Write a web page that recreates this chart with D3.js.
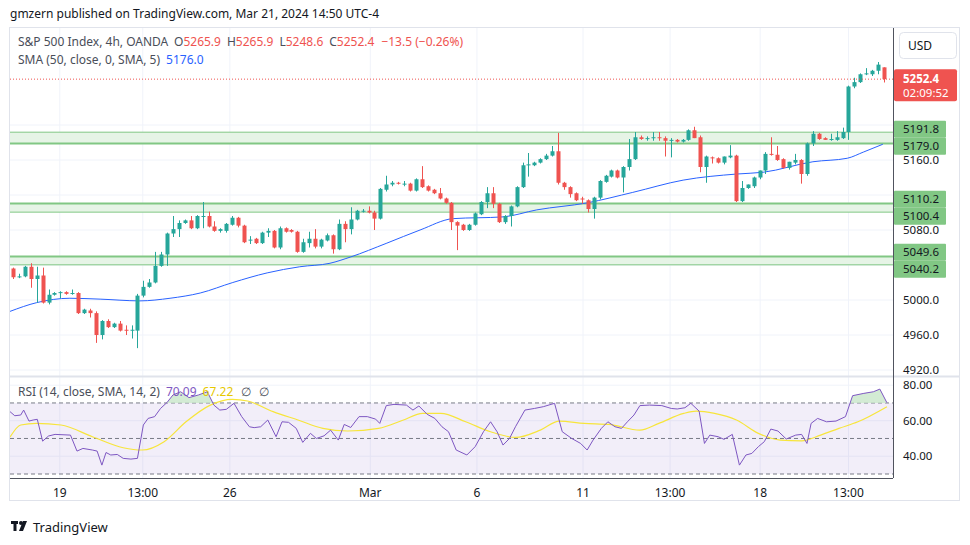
<!DOCTYPE html>
<html>
<head>
<meta charset="utf-8">
<script src="https://cdn.jsdelivr.net/npm/d3@7"></script>
<style>
  body { margin: 0; background: #fff; font-family: "Noto Sans", "Open Sans", sans-serif; }
  text { font-family: "Noto Sans", "Open Sans", sans-serif; white-space: pre; }
</style>
</head>
<body>
<svg id="chart" width="970" height="545"></svg>
<script>
// candles: [open, high, low, close], 4h bars
const candles = [
  [5036,5037,5024,5026],[5026,5030,5025,5027],[5027,5039,5026,5038],[5038,5042,5014,5024],
  [5024,5038,4997,5028],[5028,5037,4996,4997],[4997,5012,4995,5006],[5006,5009,5005,5008],
  [5008,5010,5002,5009],[5009,5010,5006,5007],[5007,5012,5006,5008],[5008,5009,4984,4985],
  [4985,4990,4984,4989],[4988,4990,4980,4985],[4985,4987,4951,4960],[4960,4977,4955,4976],
  [4976,4978,4968,4969],[4969,4974,4968,4973],[4973,4976,4964,4965],[4966,4971,4960,4965],
  [4965,4971,4956,4966],[4965,5007,4945,5005],[5005,5022,5003,5015],[5015,5024,5014,5020],
  [5020,5055,5019,5039],[5039,5055,5038,5052],[5052,5077,5039,5076],[5076,5096,5072,5081],
  [5081,5091,5072,5088],[5088,5092,5087,5091],[5091,5096,5081,5082],[5082,5097,5081,5096],
  [5096,5112,5082,5096],[5096,5101,5083,5084],[5084,5090,5078,5079],[5079,5082,5077,5081],
  [5079,5088,5077,5087],[5086,5096,5085,5094],[5094,5095,5083,5085],[5085,5086,5065,5066],
  [5068,5073,5064,5069],[5070,5071,5064,5065],[5065,5078,5064,5077],[5077,5082,5072,5079],
  [5079,5080,5059,5060],[5060,5084,5058,5082],[5082,5083,5077,5078],[5080,5081,5077,5078],
  [5078,5079,5054,5055],[5055,5070,5054,5066],[5065,5078,5060,5070],[5070,5081,5059,5061],
  [5061,5070,5059,5069],[5068,5076,5067,5074],[5074,5075,5053,5058],[5058,5092,5057,5087],
  [5087,5090,5066,5081],[5081,5106,5075,5092],[5092,5103,5091,5102],[5101,5104,5100,5102],
  [5102,5107,5099,5100],[5100,5102,5080,5093],[5093,5128,5092,5127],[5126,5142,5124,5132],
  [5132,5136,5130,5134],[5134,5135,5132,5133],[5133,5136,5130,5133],[5133,5134,5124,5125],
  [5125,5139,5124,5138],[5138,5153,5128,5129],[5130,5131,5124,5125],[5126,5127,5121,5122],
  [5122,5128,5115,5116],[5116,5117,5110,5111],[5111,5112,5080,5089],[5089,5090,5057,5085],
  [5086,5087,5079,5080],[5080,5087,5079,5086],[5086,5100,5085,5099],[5098,5113,5097,5112],
  [5112,5129,5105,5122],[5122,5129,5105,5110],[5110,5111,5088,5089],[5089,5097,5087,5096],
  [5096,5108,5084,5107],[5107,5130,5106,5129],[5129,5157,5128,5154],[5154,5168,5141,5155],
  [5154,5158,5153,5157],[5157,5162,5156,5161],[5161,5167,5160,5165],[5165,5176,5164,5170],
  [5170,5191,5132,5134],[5134,5135,5126,5129],[5129,5130,5117,5121],[5122,5123,5113,5114],
  [5116,5118,5110,5115],[5114,5115,5100,5104],[5104,5118,5093,5117],[5117,5137,5115,5136],
  [5135,5143,5134,5142],[5141,5149,5140,5148],[5148,5149,5139,5140],[5140,5153,5123,5152],
  [5152,5184,5148,5161],[5161,5192,5160,5186],[5186,5188,5183,5184],[5184,5187,5182,5185],
  [5185,5192,5182,5186],[5186,5192,5182,5185],[5185,5187,5164,5182],[5182,5185,5163,5183],
  [5183,5184,5180,5181],[5181,5184,5180,5183],[5183,5195,5182,5194],[5194,5198,5185,5185],
  [5186,5188,5146,5152],[5152,5165,5134,5164],[5163,5164,5156,5162],[5162,5163,5156,5157],
  [5157,5164,5155,5164],[5163,5177,5162,5165],[5165,5166,5112,5113],[5113,5136,5112,5128],
  [5128,5132,5127,5132],[5130,5141,5128,5140],[5140,5148,5138,5148],[5148,5169,5144,5167],
  [5167,5186,5165,5166],[5166,5176,5159,5160],[5161,5162,5150,5151],[5151,5158,5149,5158],
  [5157,5167,5155,5160],[5160,5161,5133,5144],[5144,5180,5142,5179],[5179,5193,5176,5190],
  [5190,5191,5183,5184],[5185,5186,5183,5183],[5183,5190,5182,5184],[5183,5193,5182,5186],
  [5185,5197,5184,5192],[5192,5245,5183,5244],[5244,5254,5242,5249],[5249,5259,5248,5258],
  [5258,5265,5257,5259],[5258,5263,5256,5262],[5262,5272,5258,5269],[5265.9,5265.9,5248.6,5252.4]
];

// SMA 50 readings: [bar index, value]
const smaPoints = [
  [-0.5,4987],[4,4997],[9.6,5002],[14.7,5001],[21.4,4999],[26.5,5002],[31.6,5008],[37.1,5020],
  [42.9,5031],[48.4,5038],[53.5,5042],[56.9,5049],[63.1,5065],[68.7,5080],[74.3,5093],[82.7,5095],
  [88.4,5103],[96.9,5111],[104.6,5123],[113.1,5137],[122.2,5144],[126.6,5146],[135,5158],
  [140.8,5162],[143.5,5169],[146.8,5178]
];

// support/resistance zones [low, high]
const zones = [[5179.0,5191.8],[5100.4,5110.2],[5040.2,5049.6]];

const priceTicks = [4920,4960,5000,5040,5080,5120,5160,5200];
const rsiTicks = [40,60,80];

const rsiPoints = [
  [-0.5,65.1],[0.3,62.8],[1.3,63.2],[1.8,66.0],[2.7,59.8],[3.4,60.4],[4.1,60.8],[5.0,48.5],
  [6.0,51.4],[7.1,52.3],[9.7,51.9],[10.8,42.9],[11.8,44.4],[13.4,43.5],[14.2,42.9],[15.0,35.0],
  [15.7,42.1],[16.5,40.7],[17.6,41.0],[18.6,38.8],[19.9,38.4],[21.0,38.8],[22.0,57.6],[22.8,61.3],
  [23.9,62.3],[24.9,66.9],[26.0,70.3],[27.0,74.5],[28.3,76.3],[29.7,73.0],[31.3,74.5],[32.8,76.3],
  [33.9,68.8],[34.9,66.0],[36.0,66.4],[37.3,69.8],[38.6,62.3],[39.9,56.6],[40.7,56.1],[41.8,56.6],
  [43.0,60.4],[44.4,51.0],[45.4,59.4],[46.5,59.1],[47.8,55.7],[48.9,47.8],[50.2,52.9],[51.2,50.0],
  [52.5,51.5],[53.6,54.7],[54.9,49.1],[55.9,57.9],[57.0,56.2],[58.4,62.3],[59.8,62.3],[61.2,60.9],
  [61.9,58.5],[63.0,68.5],[64.3,69.2],[66.4,68.8],[67.5,66.0],[68.5,68.3],[69.9,63.6],[71.2,61.3],
  [72.4,56.6],[73.5,53.8],[74.8,43.5],[76.6,40.7],[78.0,45.4],[79.4,53.8],[80.6,59.4],[81.7,53.8],
  [82.7,46.3],[83.8,50.0],[84.8,56.6],[86.4,66.0],[88.0,66.9],[89.5,67.9],[91.4,69.8],[92.7,53.8],
  [94.3,50.0],[95.8,47.2],[96.9,43.5],[97.9,49.1],[99.3,55.7],[100.4,59.4],[101.6,56.6],[102.7,55.7],
  [103.7,59.4],[104.8,63.2],[105.8,68.5],[107.4,68.8],[109.5,68.5],[111.1,66.9],[112.1,66.6],
  [113.4,67.3],[114.4,69.8],[115.8,65.4],[116.7,47.2],[117.6,51.9],[119.0,51.0],[120.0,49.5],
  [121.4,52.3],[122.6,35.0],[123.7,40.7],[124.7,41.6],[125.8,45.4],[126.8,48.2],[127.9,55.3],
  [129.1,54.2],[130.5,49.7],[132.1,51.9],[133.1,52.3],[134.0,47.2],[134.7,58.5],[135.8,61.3],
  [137.3,59.4],[138.9,59.8],[140.5,62.3],[141.7,74.1],[143.6,75.4],[145.2,76.3],[146.3,77.8],
  [147.5,70.1]
];

const rsiSmaPoints = [
  [-0.5,50.8],[1.3,57.6],[3.9,58.5],[8.1,57.6],[13.4,51.0],[18.6,44.8],[21.8,43.5],[25.5,48.2],
  [29.2,59.4],[33.3,68.8],[37.0,72.0],[39.6,71.1],[43.9,65.1],[48.1,60.4],[52.3,55.7],[56.5,54.2],
  [61.7,55.7],[65.9,60.4],[69.1,64.1],[72.2,64.1],[76.4,59.4],[80.6,53.8],[84.8,50.6],[89.0,54.7],
  [92.2,59.8],[96.4,58.5],[100.6,57.9],[105.8,54.7],[109.0,58.5],[113.2,64.1],[115.3,65.4],
  [118.4,64.1],[122.1,60.4],[125.8,52.9],[129.5,49.1],[133.1,48.7],[136.3,51.9],[139.4,55.7],
  [142.6,59.4],[147.5,67.9]
];

const timeLabels = ["19","13:00","26","Mar","6","11","13:00","18","13:00"];
const timeTickIdx = [7.9,21.9,36.6,60.3,78.3,96.2,110.9,126.1,141];

const UP = "#26a69a", DOWN = "#ef5350", GRID = "#f0f3fa", ZONE = "#81c784";
const plotL = 10, plotR = 893, priceTop = 28, priceBot = 376, rsiTop = 377, rsiBot = 478;

const svg = d3.select("#chart");
const x = d3.scaleLinear().domain([0, candles.length - 1]).range([13, 884]);
const y = d3.scaleLinear().domain([4920, 5200]).range([370, 125]);
const yr = d3.scaleLinear().domain([30, 80]).range([474, 385.2]);

svg.append("text").attr("x", 10).attr("y", 18).attr("font-size", 12).attr("fill", "#131722")
  .text("gmzern published on TradingView.com, Mar 21, 2024 14:50 UTC-4");

svg.append("defs").append("clipPath").attr("id", "plotClip")
  .append("rect").attr("x", plotL).attr("y", priceTop).attr("width", plotR - plotL).attr("height", rsiBot - priceTop);
svg.append("defs").append("clipPath").attr("id", "priceClip")
  .append("rect").attr("x", plotL).attr("y", priceTop).attr("width", plotR - plotL).attr("height", priceBot - priceTop);

// grid
const grid = svg.append("g");
grid.selectAll(".vg").data(timeTickIdx).join("line")
  .attr("x1", d => x(d)).attr("x2", d => x(d)).attr("y1", priceTop).attr("y2", rsiBot)
  .attr("stroke", GRID);
grid.selectAll(".hg").data(priceTicks).join("line")
  .attr("x1", plotL).attr("x2", plotR).attr("y1", d => y(d)).attr("y2", d => y(d)).attr("stroke", GRID);
grid.selectAll(".rg").data(rsiTicks).join("line")
  .attr("x1", plotL).attr("x2", plotR).attr("y1", d => yr(d)).attr("y2", d => yr(d)).attr("stroke", GRID);

// zones
const zg = svg.append("g");
zones.forEach(([lo, hi], k) => {
  zg.append("rect").attr("x", plotL).attr("width", plotR - plotL)
    .attr("y", y(hi)).attr("height", y(lo) - y(hi)).attr("fill", "#e6f4e6");
  zg.append("line").attr("x1", plotL).attr("x2", plotR).attr("y1", y(hi)).attr("y2", y(hi))
    .attr("stroke", ZONE).attr("stroke-width", k === 0 ? 1 : 2);
  zg.append("line").attr("x1", plotL).attr("x2", plotR).attr("y1", y(lo)).attr("y2", y(lo))
    .attr("stroke", ZONE).attr("stroke-width", k === 0 ? 2 : 1);
});

// SMA
svg.append("path").datum(smaPoints).attr("clip-path", "url(#priceClip)")
  .attr("fill", "none").attr("stroke", "#2962ff").attr("stroke-width", 1)
  .attr("d", d3.line().x(d => x(d[0])).y(d => y(d[1])).curve(d3.curveMonotoneX));

// candles
const cg = svg.append("g");
cg.selectAll(".wick").data(candles).join("line")
  .attr("x1", (d, i) => Math.round(x(i)) + 0.5).attr("x2", (d, i) => Math.round(x(i)) + 0.5)
  .attr("y1", d => y(d[1])).attr("y2", d => y(d[2]))
  .attr("stroke", d => d[3] >= d[0] ? UP : DOWN);
cg.selectAll(".body").data(candles).join("rect")
  .attr("x", (d, i) => Math.round(x(i)) - 1.5).attr("width", 4)
  .attr("y", d => y(Math.max(d[0], d[3])))
  .attr("height", d => Math.max(1, Math.abs(y(d[0]) - y(d[3]))))
  .attr("fill", d => d[3] >= d[0] ? UP : DOWN);

// last price dotted line
const last = candles[candles.length - 1];
svg.append("line").attr("x1", plotL).attr("x2", plotR).attr("y1", y(last[3])).attr("y2", y(last[3]))
  .attr("stroke", DOWN).attr("stroke-dasharray", "1,2");

// legend
const leg = svg.append("text").attr("x", 18).attr("y", 46).attr("font-size", 12).attr("fill", "#4a4e59");
leg.append("tspan").text("S&P 500 Index, 4h, OANDA");
[["O", "5265.9"], ["H", "5265.9"], ["L", "5248.6"], ["C", "5252.4"]].forEach(([k, v]) => {
  leg.append("tspan").attr("dx", 6).text(k);
  leg.append("tspan").attr("fill", DOWN).text(v);
});
leg.append("tspan").attr("dx", 7).attr("fill", DOWN).text("−13.5 (−0.26%)");
const leg2 = svg.append("text").attr("x", 18).attr("y", 64).attr("font-size", 12).attr("fill", "#4a4e59");
leg2.append("tspan").text("SMA (50, close, 0, SMA, 5)");
leg2.append("tspan").attr("dx", 6).attr("fill", "#2962ff").text("5176.0");

// RSI pane
const rg = svg.append("g").attr("clip-path", "url(#plotClip)");
rg.append("rect").attr("x", plotL).attr("width", plotR - plotL).attr("y", yr(70)).attr("height", yr(30) - yr(70))
  .attr("fill", "#7e57c2").attr("fill-opacity", 0.1);
[70, 50, 30].forEach(v => {
  rg.append("line").attr("x1", plotL).attr("x2", plotR).attr("y1", yr(v)).attr("y2", yr(v))
    .attr("stroke", "#787b86").attr("stroke-dasharray", "4,3");
});
rg.append("clipPath").attr("id", "ob").append("rect")
  .attr("x", plotL).attr("y", rsiTop).attr("width", plotR - plotL).attr("height", yr(70) - rsiTop);
rg.append("path").datum(rsiPoints).attr("clip-path", "url(#ob)")
  .attr("fill", "#c8e6c9").attr("fill-opacity", 0.8)
  .attr("d", d3.area().x(d => x(d[0])).y0(yr(70)).y1(d => yr(d[1])));
rg.append("path").datum(rsiSmaPoints).attr("fill", "none").attr("stroke", "#f7e53b").attr("stroke-width", 1.2)
  .attr("d", d3.line().x(d => x(d[0])).y(d => yr(d[1])).curve(d3.curveMonotoneX));
rg.append("path").datum(rsiPoints).attr("fill", "none").attr("stroke", "#7e57c2").attr("stroke-width", 1)
  .attr("d", d3.line().x(d => x(d[0])).y(d => yr(d[1])));

const rl = svg.append("text").attr("x", 18).attr("y", 396).attr("font-size", 12).attr("fill", "#4a4e59");
rl.append("tspan").text("RSI (14, close, SMA, 14, 2)");
rl.append("tspan").attr("dx", 6).attr("fill", "#7e57c2").text("70.09");
rl.append("tspan").attr("dx", 6).attr("fill", "#e6c800").text("67.22");
rl.append("tspan").attr("dx", 8).text("∅");
rl.append("tspan").attr("dx", 8).text("∅");

// frame and separators
svg.append("rect").attr("x", 9.5).attr("y", 27.5).attr("width", 950).attr("height", 473)
  .attr("fill", "none").attr("stroke", "#e0e3eb");
svg.append("line").attr("x1", plotL).attr("x2", 960).attr("y1", priceBot + 0.5).attr("y2", priceBot + 0.5)
  .attr("stroke", "#e0e3eb").attr("stroke-width", 2);
svg.append("line").attr("x1", plotL).attr("x2", plotR).attr("y1", rsiBot + 0.5).attr("y2", rsiBot + 0.5)
  .attr("stroke", "#50535e");
svg.append("line").attr("x1", plotR + 0.5).attr("x2", plotR + 0.5).attr("y1", priceTop).attr("y2", rsiBot)
  .attr("stroke", "#50535e");

// zone labels, pushed apart like the price scale does
const zoneVals = zones.flatMap(z => [z[1], z[0]]);
const labelY = [];
zones.forEach(([lo, hi]) => {
  const mid = (y(lo) + y(hi)) / 2;
  labelY.push(Math.min(y(hi), mid - 8.5), Math.max(y(lo), mid + 8.5));
});

// price axis (ticks hidden where a label box sits on them)
const ax = svg.append("g").attr("font-size", 11.5).attr("fill", "#131722");
ax.selectAll(".pt").data(priceTicks.filter(t => labelY.every(ly => Math.abs(y(t) - ly) > 12)))
  .join("text").attr("x", 903).attr("y", d => y(d) + 4).text(d => d.toFixed(1));
ax.selectAll(".rt").data(rsiTicks).join("text")
  .attr("x", 903).attr("y", d => yr(d) + 4).text(d => d.toFixed(2));

const zl = svg.append("g");
zoneVals.forEach((v, k) => {
  zl.append("rect").attr("x", 894).attr("y", labelY[k] - 8.5).attr("width", 52).attr("height", 17)
    .attr("rx", 1).attr("fill", ZONE);
  zl.append("text").attr("x", 903).attr("y", labelY[k] + 4).attr("font-size", 11.5).attr("fill", "#131722")
    .text(v.toFixed(1));
});

// last price label
svg.append("rect").attr("x", 894).attr("y", y(last[3]) - 10).attr("width", 63).attr("height", 32)
  .attr("rx", 2).attr("fill", DOWN);
svg.append("text").attr("x", 903).attr("y", y(last[3]) + 4).attr("font-size", 11.5).attr("fill", "#fff")
  .attr("font-weight", "bold").text(last[3].toFixed(1));
svg.append("text").attr("x", 903).attr("y", y(last[3]) + 18).attr("font-size", 11.5).attr("fill", "#fff")
  .text("02:09:52");

// USD button
svg.append("rect").attr("x", 899.5).attr("y", 32.5).attr("width", 57).attr("height", 26).attr("rx", 4)
  .attr("fill", "#fff").attr("stroke", "#e0e3eb");
svg.append("text").attr("x", 908).attr("y", 50).attr("font-size", 12).attr("fill", "#131722").text("USD");

// time axis
svg.append("g").selectAll("text").data(timeLabels).join("text")
  .attr("x", (d, i) => x(timeTickIdx[i])).attr("y", 497).attr("text-anchor", "middle")
  .attr("font-size", 12).attr("fill", "#131722").text(d => d);

// footer logo
const logo = svg.append("g").attr("transform", "translate(11,521)");
logo.append("rect").attr("x", 0).attr("y", 0).attr("width", 7).attr("height", 3).attr("fill", "#131722");
logo.append("rect").attr("x", 2.5).attr("y", 0).attr("width", 3).attr("height", 10).attr("fill", "#131722");
logo.append("circle").attr("cx", 10).attr("cy", 2).attr("r", 2).attr("fill", "#131722");
logo.append("path").attr("d", "M12,0 L16,0 L12,10 L8,10 Z").attr("fill", "#131722");
svg.append("text").attr("x", 33).attr("y", 532).attr("font-size", 13).attr("fill", "#131722").text("TradingView");
</script>
</body>
</html>
